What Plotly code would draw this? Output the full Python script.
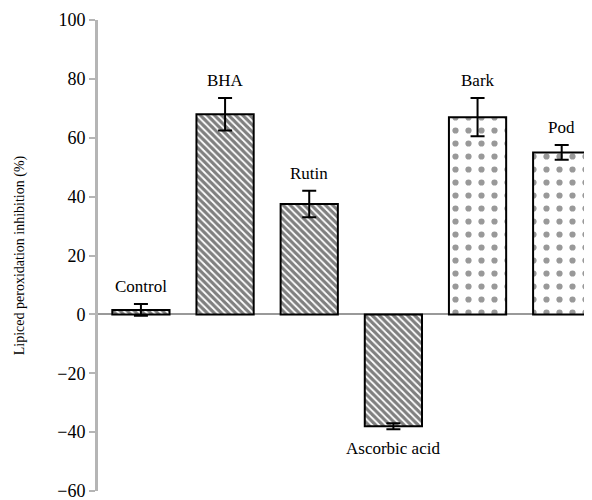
import plotly.graph_objects as go

categories = ["Control", "BHA", "Rutin", "Ascorbic acid", "Bark", "Pod"]
values = [1.5, 68.0, 37.5, -38.0, 67.0, 55.0]
errors = [2.0, 5.5, 4.5, 1.0, 6.5, 2.5]
hatch = ["\\", "\\", "\\", "\\", ".", "."]
y_ticks = [-60, -40, -20, 0, 20, 40, 60, 80, 100]

FONT = "Liberation Serif, Times New Roman, Times, serif"
x = list(range(len(categories)))

fig = go.Figure()
fig.add_trace(go.Bar(
    x=x, y=values,
    width=0.68,
    marker=dict(
        color="white",
        line=dict(color="black", width=2),
        pattern=dict(
            shape=hatch,
            fgcolor=["black"] * 4 + ["#333333"] * 2,
            bgcolor="white",
            size=[5, 5, 5, 5, 13, 13],
            solidity=[0.65, 0.65, 0.65, 0.65, 0.18, 0.18],
        ),
    ),
    error_y=dict(type="data", array=errors, visible=True,
                 color="black", thickness=2, width=7),
    showlegend=False,
))

for i, (c, v, e) in enumerate(zip(categories, values, errors)):
    if v >= 0:
        fig.add_annotation(x=i, y=v + e, text=c, showarrow=False,
                           yanchor="bottom", yshift=6,
                           font=dict(family=FONT, size=17, color="black"))
    else:
        fig.add_annotation(x=i, y=v - e, text=c, showarrow=False,
                           yanchor="top", yshift=-8,
                           font=dict(family=FONT, size=17, color="black"))

# The page body adds an 8px offset; figure sized to fit the 592x500 window.
fig.update_layout(
    width=584, height=492,
    margin=dict(l=90, r=0, t=12, b=9),
    plot_bgcolor="white", paper_bgcolor="white",
    font=dict(family=FONT, size=17, color="black"),
)
fig.update_xaxes(range=[-0.51, 5.36], showticklabels=False, showgrid=False,
                 zeroline=False, showline=False, ticks="")
fig.update_yaxes(range=[-60, 100], tickvals=y_ticks, showgrid=False,
                 zeroline=True, zerolinecolor="#999999", zerolinewidth=1.5,
                 showline=True, linecolor="#b5b5b5", linewidth=3,
                 ticks="outside", ticklen=6, tickwidth=2, tickcolor="#b5b5b5",
                 ticklabeloverflow="allow",
                 tickfont=dict(family=FONT, size=18, color="black"),
                 title=dict(text="Lipiced peroxidation inhibition (%)",
                            font=dict(family=FONT, size=14, color="black"),
                            standoff=30))

fig.write_html("out.html")
